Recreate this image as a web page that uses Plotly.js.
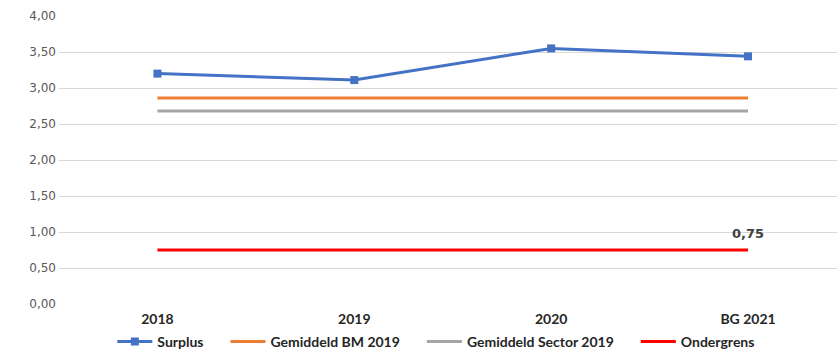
<!DOCTYPE html>
<html>
<head>
<meta charset="utf-8">
<script src="https://cdn.plot.ly/plotly-3.0.1.min.js"></script>
<style>body{margin:0;padding:0;background:#fff;} #chart{width:837px;height:354px;}</style>
</head>
<body>
<div id="chart"></div>
<script>
const categories = ["2018", "2019", "2020", "BG 2021"];
const seriesNames = ["Surplus", "Gemiddeld BM 2019", "Gemiddeld Sector 2019", "Ondergrens"];
const surplus = [3.20, 3.11, 3.55, 3.44];
const gemiddeldBM = [2.86, 2.86, 2.86, 2.86];
const gemiddeldSector = [2.68, 2.68, 2.68, 2.68];
const ondergrens = [0.75, 0.75, 0.75, 0.75];
const ondergrensLabel = "0,75";
const yTickVals = [0, 0.5, 1, 1.5, 2, 2.5, 3, 3.5, 4];
const yTickText = ["0,00", "0,50", "1,00", "1,50", "2,00", "2,50", "3,00", "3,50", "4,00"];

// legend spacing padding (non-breaking spaces) for all but last entry
const pad = "\u00a0\u00a0\u00a0\u00a0\u00a0";
const legendName = (i) => i < seriesNames.length - 1 ? seriesNames[i] + pad : seriesNames[i];

const traces = [
  {x: categories, y: surplus, name: legendName(0), type: "scatter", mode: "lines+markers",
   line: {color: "#4472C4", width: 3}, marker: {symbol: "square", size: 8, color: "#4472C4"}},
  {x: categories, y: gemiddeldBM, name: legendName(1), type: "scatter", mode: "lines",
   line: {color: "#ED7D31", width: 3}},
  {x: categories, y: gemiddeldSector, name: legendName(2), type: "scatter", mode: "lines",
   line: {color: "#A5A5A5", width: 3}},
  {x: categories, y: ondergrens, name: legendName(3), type: "scatter", mode: "lines",
   line: {color: "#FF0000", width: 3}}
];

const last = categories.length - 1;
const layout = {
  width: 837, height: 354,
  margin: {l: 59, r: 0, t: 16, b: 50},
  paper_bgcolor: "#fff", plot_bgcolor: "#fff",
  showlegend: true,
  legend: {orientation: "h", x: 0.485, xanchor: "center", xref: "paper",
           y: 0.034, yanchor: "middle", yref: "container",
           bgcolor: "rgba(0,0,0,0)",
           font: {family: "Lato", size: 14, color: "#262626", weight: "bold"},
           itemwidth: 35, tracegroupgap: 0},
  annotations: [{x: categories[last], y: ondergrens[last], xref: "x", yref: "y",
                 text: ondergrensLabel, showarrow: false, yshift: 17,
                 font: {family: "DejaVu Sans", size: 13, color: "#404040", weight: "bold"}}],
  xaxis: {type: "category", range: [-0.5, 3.452], showgrid: false, zeroline: false,
          showline: false, ticks: "", ticklabelstandoff: 5,
          tickfont: {family: "Lato", size: 14, color: "#262626", weight: "bold"}},
  yaxis: {range: [0, 4], tickvals: yTickVals, ticktext: yTickText, showgrid: true,
          gridcolor: "#D9D9D9", gridwidth: 1, zeroline: false, showline: false, ticks: "",
          ticklabelstandoff: 2,
          tickfont: {family: "DejaVu Sans", size: 12, color: "#595959"}}
};

Plotly.newPlot("chart", traces, layout, {displayModeBar: false, staticPlot: true});
</script>
</body>
</html>
